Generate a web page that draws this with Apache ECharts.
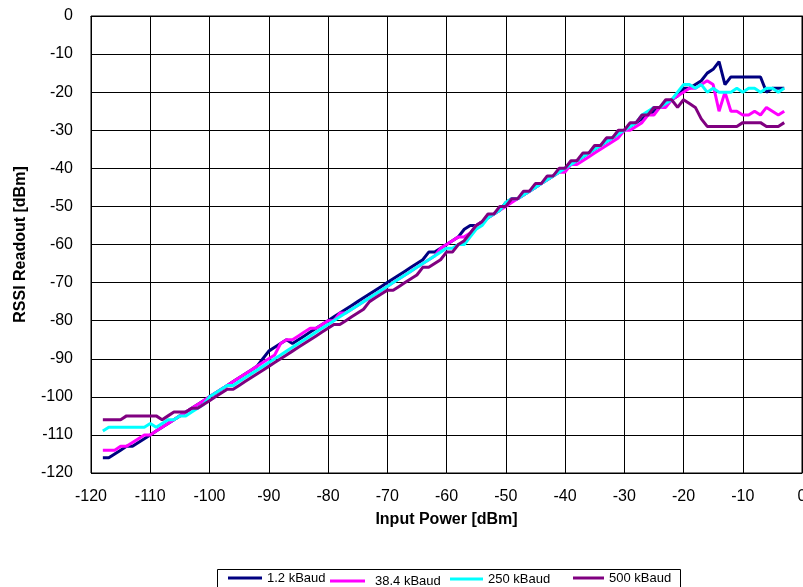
<!DOCTYPE html>
<html>
<head>
<meta charset="utf-8">
<script src="https://cdn.jsdelivr.net/npm/echarts@6/dist/echarts.min.js"></script>
<style>
html,body{margin:0;padding:0;background:#fff;}
#chart{width:803px;height:587px;}
</style>
</head>
<body>
<div id="chart"></div>
<script>
// Input power [dBm]
var inputPower = [-118,-117,-116,-115,-114,-113,-112,-111,
-110,-109,-108,-107,-106,-105,-104,-103,-102,-101,
-100,-99,-98,-97,-96,-95,-94,-93,-92,-91,
-90,-89,-88,-87,-86,-85,-84,-83,-82,-81,
-80,-79,-78,-77,-76,-75,-74,-73,-72,-71,
-70,-69,-68,-67,-66,-65,-64,-63,-62,-61,
-60,-59,-58,-57,-56,-55,-54,-53,-52,-51,
-50,-49,-48,-47,-46,-45,-44,-43,-42,-41,
-40,-39,-38,-37,-36,-35,-34,-33,-32,-31,
-30,-29,-28,-27,-26,-25,-24,-23,-22,-21,
-20,-19,-18,-17,-16,-15,-14,-13,-12,-11,
-10,-9,-8,-7,-6,-5,-4,-3];

var rssi_1k2 = [-116,-116,-115,-114,-113,-113,-112,-111,
-110,-109,-108,-107,-106,-105,-104,-103,-102,-101,
-100,-99,-98,-97,-96,-95,-94,-93,-92,-90,
-88,-87,-86,-85,-86,-85,-84,-83,-82,-81,
-80,-79,-78,-77,-76,-75,-74,-73,-72,-71,
-70,-69,-68,-67,-66,-65,-64,-62,-62,-61,
-60,-59,-58,-56,-55,-55,-54,-53,-52,-51,
-49,-48,-48,-47,-46,-45,-44,-43,-42,-41,
-40,-39,-38,-37,-36,-35,-34,-33,-32,-31,
-30,-29,-28,-27,-26,-25,-24,-23,-22,-21,
-19,-19,-18,-17,-15,-14,-12,-18,-16,-16,
-16,-16,-16,-16,-20,-19,-19,-19];

var rssi_38k4 = [-114,-114,-114,-113,-113,-112,-111,-110,
-110,-109,-108,-107,-106,-105,-104,-103,-102,-101,
-100,-99,-98,-97,-96,-95,-94,-93,-92,-91,
-90,-89,-86,-85,-85,-84,-83,-82,-82,-81,
-80,-80,-78,-78,-77,-76,-75,-74,-73,-72,
-71,-70,-69,-68,-67,-66,-65,-64,-63,-61,
-60,-59,-58,-58,-57,-55,-54,-53,-52,-51,
-50,-49,-48,-47,-46,-45,-44,-43,-42,-41,
-41,-39,-39,-38,-37,-36,-35,-34,-33,-32,
-30,-30,-29,-28,-26,-26,-24,-24,-22,-21,
-20,-19,-19,-18,-17,-18,-25,-20,-25,-25,
-26,-26,-25,-26,-24,-25,-26,-25];

var rssi_250k = [-109,-108,-108,-108,-108,-108,-108,-108,
-107,-108,-107,-106,-106,-105,-105,-104,-103,-102,
-100,-99,-98,-97,-97,-96,-95,-94,-93,-92,
-91,-90,-89,-88,-87,-86,-85,-84,-83,-82,
-81,-80,-79,-78,-77,-76,-75,-74,-73,-72,
-71,-70,-69,-68,-67,-66,-65,-64,-63,-62,
-61,-61,-60,-60,-58,-56,-55,-53,-52,-51,
-49,-48,-48,-47,-46,-45,-44,-43,-42,-41,
-40,-39,-38,-37,-36,-35,-34,-33,-32,-31,
-30,-29,-28,-26,-25,-24,-24,-23,-22,-20,
-18,-18,-19,-18,-20,-19,-20,-20,-20,-19,
-20,-19,-19,-20,-19,-19,-20,-19];

var rssi_500k = [-106,-106,-106,-106,-105,-105,-105,-105,
-105,-105,-106,-105,-104,-104,-104,-103,-103,-102,
-101,-100,-99,-98,-98,-97,-96,-95,-94,-93,
-92,-91,-90,-89,-88,-87,-86,-85,-84,-83,
-82,-81,-81,-80,-79,-78,-77,-75,-74,-73,
-72,-72,-71,-70,-69,-68,-66,-66,-65,-64,
-62,-62,-60,-59,-57,-55,-54,-52,-52,-50,
-50,-48,-48,-46,-46,-44,-44,-42,-42,-40,
-40,-38,-38,-36,-36,-34,-34,-32,-32,-30,
-30,-28,-28,-26,-26,-24,-24,-22,-22,-24,
-22,-23,-24,-27,-29,-29,-29,-29,-29,-29,
-28,-28,-28,-28,-29,-29,-29,-28];

var seriesNames = ['1.2 kBaud', '38.4 kBaud', '250 kBaud', '500 kBaud'];
var seriesColors = ['#000080', '#FF00FF', '#00FFFF', '#800080'];
var seriesValues = [rssi_1k2, rssi_38k4, rssi_250k, rssi_500k];

function pairs(ys) {
  return inputPower.map(function (x, i) { return [x, ys[i]]; });
}

var FONT = 'Liberation Sans, Arial, sans-serif';

var legendPos = [
  {left: 228, top: 571, gap: 0},
  {left: 330, top: 574, gap: 5},
  {left: 450, top: 572, gap: 0},
  {left: 573, top: 571, gap: 0}
];
var legendWidths = [34, 35, 33, 31];

var chart = echarts.init(document.getElementById('chart'), null, {renderer: 'canvas'});
chart.setOption({
  animation: false,
  backgroundColor: '#fff',
  grid: {
    left: 91, right: 1, top: 16, bottom: 114,
    outerBoundsMode: 'none',
    show: true, borderColor: '#000', borderWidth: 1, containLabel: false
  },
  xAxis: {
    type: 'value', min: -120, max: 0, interval: 10,
    name: 'Input Power [dBm]', nameLocation: 'middle', nameGap: 39,
    nameTextStyle: {fontFamily: FONT, fontSize: 16, fontWeight: 'bold', color: '#000'},
    axisLine: {show: true, lineStyle: {color: '#000', width: 1}},
    axisTick: {show: true, length: 6, lineStyle: {color: '#000'}},
    axisLabel: {fontFamily: FONT, fontSize: 16, color: '#000', margin: 16,
                showMaxLabel: true, showMinLabel: true},
    splitLine: {show: true, lineStyle: {color: '#000', width: 1}}
  },
  yAxis: {
    type: 'value', min: -120, max: 0, interval: 10,
    name: 'RSSI Readout [dBm]', nameLocation: 'middle', nameGap: 62, nameRotate: 90,
    nameTextStyle: {fontFamily: FONT, fontSize: 16, fontWeight: 'bold', color: '#000'},
    axisLine: {show: true, lineStyle: {color: '#000', width: 1}},
    axisTick: {show: true, length: 6, lineStyle: {color: '#000'}},
    axisLabel: {fontFamily: FONT, fontSize: 16, color: '#000', margin: 18},
    splitLine: {show: true, lineStyle: {color: '#000', width: 1}}
  },
  legend: seriesNames.map(function (n, i) {
    return {
      data: [n], left: legendPos[i].left, top: legendPos[i].top, orient: 'horizontal',
      icon: 'rect', itemWidth: legendWidths[i], itemHeight: 3, padding: 0,
      selectedMode: false,
      textStyle: {fontFamily: FONT, fontSize: 13, color: '#000', lineHeight: 14,
                  padding: [0, 0, 0, legendPos[i].gap]}
    };
  }),
  graphic: [{
    type: 'rect', left: 215, top: 567, silent: true,
    shape: {width: 463, height: 30},
    style: {fill: 'none', stroke: '#000', lineWidth: 1}
  }],
  series: seriesNames.map(function (n, i) {
    return {
      name: n, type: 'line', data: pairs(seriesValues[i]),
      showSymbol: false, symbol: 'none',
      lineStyle: {color: seriesColors[i], width: 3},
      itemStyle: {color: seriesColors[i]},
      emphasis: {disabled: true}
    };
  })
});
</script>
</body>
</html>
